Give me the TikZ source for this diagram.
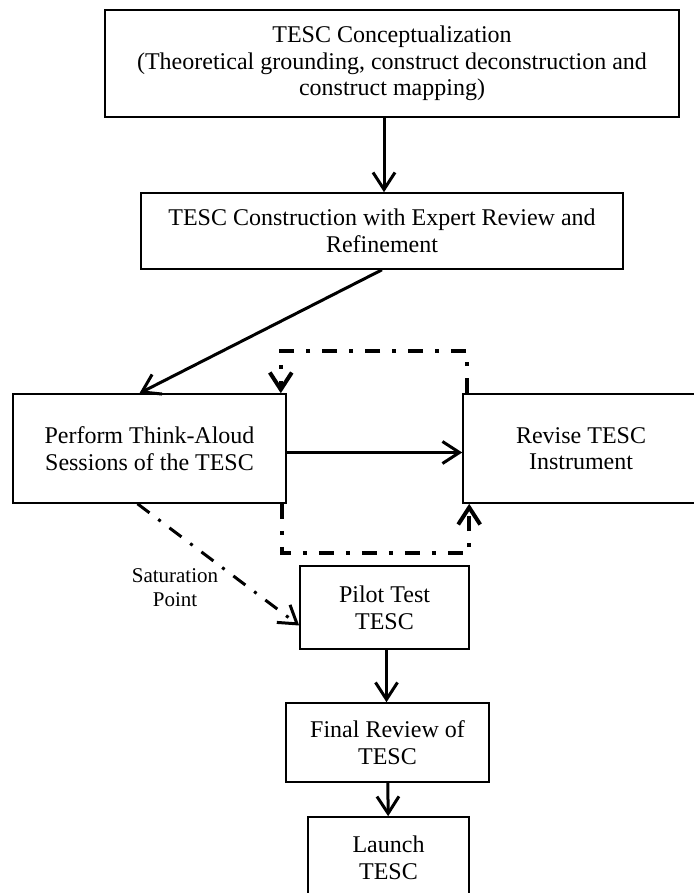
\documentclass[tikz,border=0pt]{standalone}
\usepackage{fontspec}
\setmainfont{Liberation Serif}
\usetikzlibrary{arrows.meta}
\begin{document}
\begin{tikzpicture}[x=0.5pt,y=-0.5pt]
       \tikzstyle{box}=[draw, line width=0.8pt, inner sep=0pt, align=center, font=\fontsize{12}{13.3}\selectfont]
       \tikzstyle{flow}=[draw, line width=1.5pt, -{Straight Barb[length=8.5pt,width=11pt]}]
       \tikzstyle{loopline}=[flow, line width=2pt, dash pattern=on 7.5pt off 6pt on 2pt off 6pt]
       \tikzstyle{satline}=[flow, dash pattern=on 7.5pt off 5.5pt on 1.5pt off 5.5pt]
       \tikzstyle{note}=[align=center, inner sep=0pt, font=\fontsize{10.5}{12}\selectfont]
       \useasboundingbox (0,0) rectangle (694,893);
       \node[box, minimum width=287pt, minimum height=53.5pt] (concept) at (392,63.5)
        {TESC Conceptualization\\(Theoretical grounding, construct deconstruction and\\construct mapping)};
       \node[box, minimum width=241pt, minimum height=38pt] (construct) at (382,231)
        {TESC Construction with Expert Review and\\Refinement};
       \node[box, minimum width=136.5pt, minimum height=54.5pt] (thinkaloud) at (149.5,448.5)
        {Perform Think-Aloud\\Sessions of the TESC};
       \node[box, minimum width=118pt, minimum height=54.5pt] (revise) at (581,448.5)
        {Revise TESC\\Instrument};
       \node[box, minimum width=84.5pt, minimum height=41.5pt] (pilot) at (384.5,607.5)
        {Pilot Test\\TESC};
       \node[box, minimum width=101.5pt, minimum height=39.5pt] (final) at (387.5,742.5)
        {Final Review of\\TESC};
       \node[box, minimum width=80.5pt, minimum height=41pt] (launch) at (388.5,858)
        {Launch\\TESC};
       \node[note] (satlabel) at (175,588) {Saturation\\Point};
       \draw[flow] ([xshift=1pt]construct.north |- concept.south) -- ([xshift=1pt]construct.north);
       \draw[flow] (construct.south) -- ([xshift=-5pt]thinkaloud.north);
       \draw[flow] ([yshift=-2pt]thinkaloud.east) -- ([yshift=-2pt]revise.west);
       \draw[loopline] ([xshift=2.5pt]revise.north west) -- ++(0,-42) -| ([xshift=-3pt]thinkaloud.north east);
       \draw[loopline] ([xshift=-2.5pt]thinkaloud.south east) -- ++(0,49) -| ([xshift=3.5pt]revise.south west);
       \draw[satline] ([xshift=-6pt]thinkaloud.south) -- ([yshift=-9pt]pilot.west);
       \draw[flow] ([xshift=1pt]pilot.south) -- ([xshift=1pt]pilot.south |- final.north);
       \draw[flow] (final) -- (launch);
      \end{tikzpicture}
\end{document}
